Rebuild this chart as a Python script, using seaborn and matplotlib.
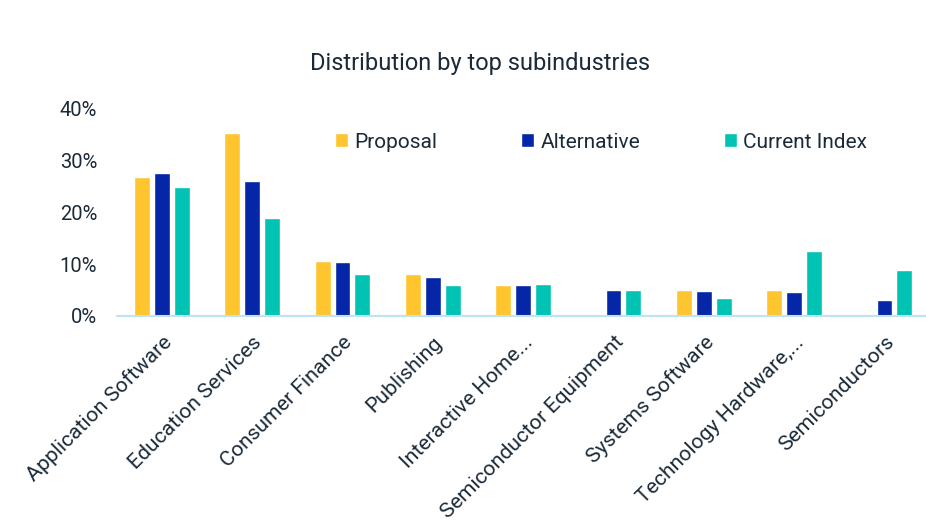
import numpy as np
import pandas as pd
import seaborn as sns
import matplotlib.pyplot as plt
from matplotlib.ticker import FuncFormatter

# Values (% weight)
subindustries = ['Application Software', 'Education Services', 'Consumer Finance', 'Publishing',
                 'Interactive Home...', 'Semiconductor Equipment', 'Systems Software',
                 'Technology Hardware,...', 'Semiconductors']
proposal = [26.9, 35.3, 10.6, 8.1, 5.9, np.nan, 5.0, 5.0, np.nan]
alternative = [27.6, 26.1, 10.5, 7.6, 5.9, 5.0, 4.8, 4.6, 3.0]
current_index = [24.9, 18.9, 8.1, 5.9, 6.1, 5.0, 3.4, 12.6, 8.8]
y_ticks = [0, 10, 20, 30, 40]

series = {'Proposal': proposal, 'Alternative': alternative, 'Current Index': current_index}
colors = {'Proposal': '#FFC52F', 'Alternative': '#0626A8', 'Current Index': '#00C3B3'}

rows = []
for name, vals in series.items():
    for cat, v in zip(subindustries, vals):
        rows.append({'Subindustry': cat, 'Series': name, 'Weight': v})
df = pd.DataFrame(rows)

sns.set_style('white')
plt.rcParams['font.family'] = ['Roboto', 'DejaVu Sans']
text_color = '#1B2A38'

fig = plt.figure(figsize=(9.26, 5.24), dpi=100)
ax = fig.add_axes([0.126, 0.397, 0.878, 0.395])

sns.barplot(data=df, x='Subindustry', y='Weight', hue='Series', palette=colors,
            saturation=1, width=0.66, gap=0.2, ax=ax, order=subindustries,
            hue_order=list(series))

ax.set_ylim(0, 40)
ax.set_xlim(-0.5, 8.5)
ax.set_yticks(y_ticks)
ax.yaxis.set_major_formatter(FuncFormatter(lambda v, p: f'{v:.0f}%'))
ax.tick_params(axis='y', length=0, labelsize=14.5, labelcolor=text_color, pad=14)
ax.tick_params(axis='x', length=0, labelsize=15.2, labelcolor=text_color, pad=12)
plt.setp(ax.get_xticklabels(), rotation=45, ha='right', rotation_mode='anchor')

ax.set_xlabel('')
ax.set_ylabel('')
for s in ['top', 'right', 'left']:
    ax.spines[s].set_visible(False)
ax.spines['bottom'].set_color('#BEE3F6')
ax.spines['bottom'].set_linewidth(1.5)

ax.legend(loc='center left', bbox_to_anchor=(0.245, 0.84), ncol=3, frameon=False,
          fontsize=15, handlelength=0.65, handleheight=0.65, handletextpad=0.3,
          columnspacing=4.0, labelcolor=text_color)

fig.text(0.518, 0.878, 'Distribution by top subindustries', ha='center', va='center',
         fontsize=17, color=text_color)

fig.savefig('out.png', dpi=100)
